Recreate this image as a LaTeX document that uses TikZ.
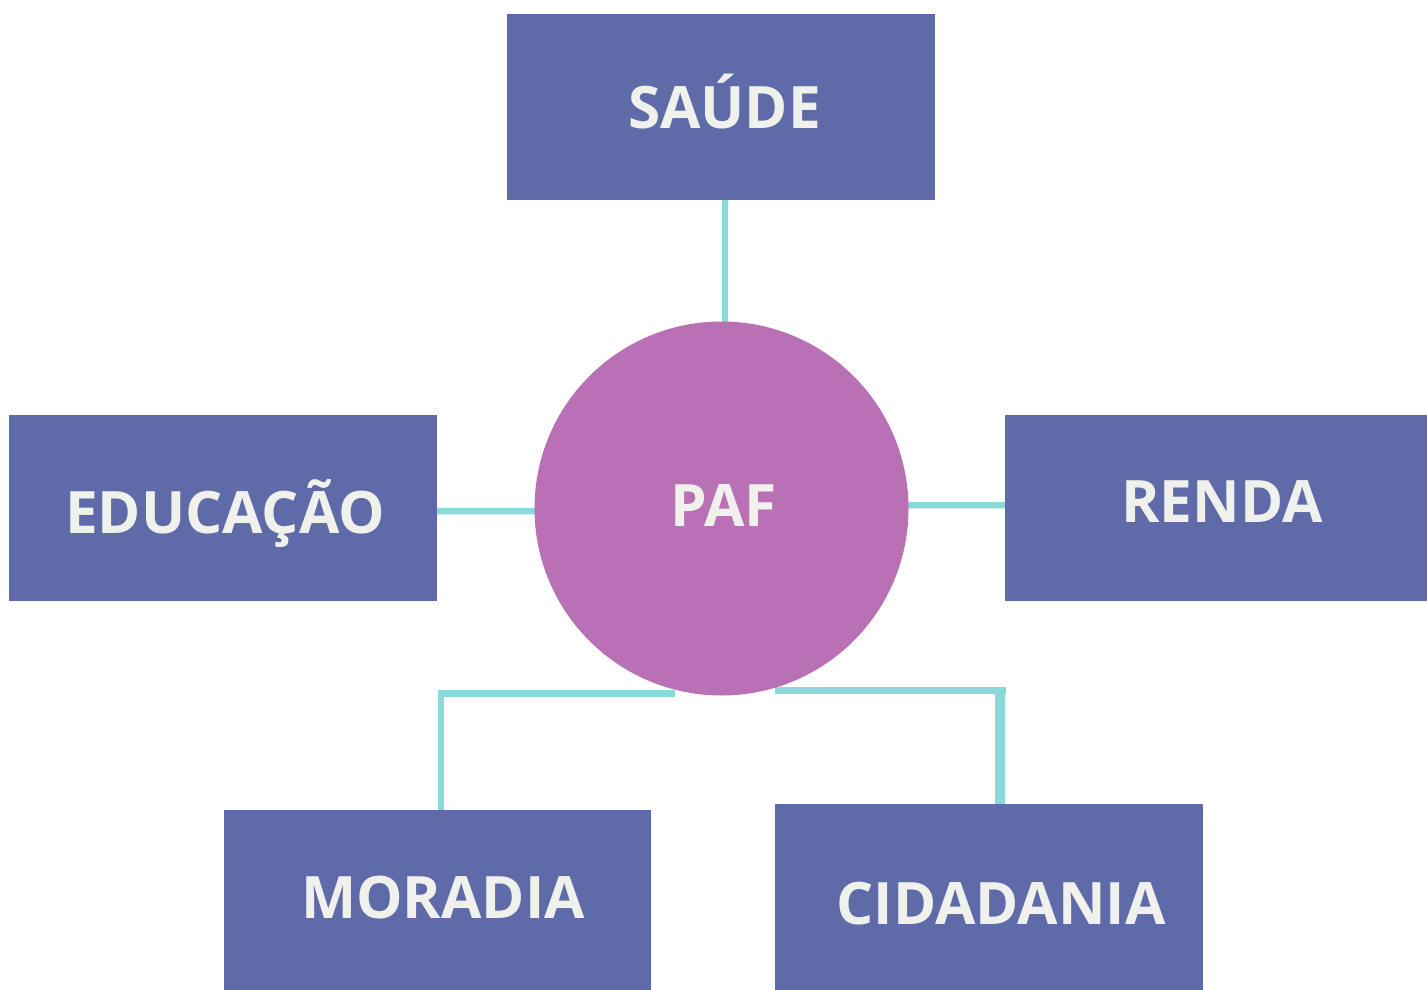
\documentclass[tikz,border=0pt]{standalone}
\usepackage{fontspec}
\setmainfont{Open Sans}
\definecolor{boxc}{HTML}{5F6BA8}
\definecolor{circc}{HTML}{BA70B5}
\definecolor{linec}{HTML}{8AD9DD}
\definecolor{textc}{HTML}{F0F0EC}
\pgfdeclarelayer{bg}
\pgfsetlayers{bg,main}
\begin{document}
\begin{tikzpicture}[x=1pt,y=-1pt,
  box/.style={fill=boxc,draw=none,rectangle,inner sep=0pt},
  lbl/.style={text=textc,font=\fontsize{58.5}{58.5}\selectfont\bfseries,anchor=base,inner sep=0pt},
  conn/.style={draw=linec,line width=6.5pt}]
\useasboundingbox (0,0) rectangle (1427,990);
% boxes
\node[box,minimum width=428pt,minimum height=186pt] (saude) at (721,107) {};
\node[box,minimum width=428pt,minimum height=186pt] (edu) at (223,508) {};
\node[box,minimum width=422pt,minimum height=186pt] (renda) at (1216,508) {};
\node[box,minimum width=427pt,minimum height=180pt] (moradia) at (437.5,900) {};
\node[box,minimum width=428pt,minimum height=186pt] (cidadania) at (989,897) {};
\node[circle,fill=circc,draw=none,minimum size=374pt,inner sep=0pt] (paf) at (721.5,508.5) {};
% labels
\node[lbl] (saudeT) at (724.5,128) {SAÚDE};
\node[lbl] (eduT) at (225,533) {EDUCAÇÃO};
\node[lbl] (rendaT) at (1222,522) {RENDA};
\node[lbl] (pafT) at (723.4,526) {PAF};
\node[lbl] (moradiaT) at (443,918) {MORADIA};
\node[lbl] (cidadaniaT) at (1001,924.5) {CIDADANIA};
% connector free ends
\coordinate (mA) at (675,693.5);
\coordinate (mB) at (441,693.5);
\coordinate (cA) at (775,690.5);
\coordinate (cB) at (1006,690.5);
\coordinate (cC) at (1000,687);
\begin{pgfonlayer}{bg}
\draw[conn,line width=6pt] ([xshift=4pt]saude.south) -- ([xshift=4pt]saude.south |- paf.center);
\draw[conn] ([yshift=-3pt]edu.east) -- ([yshift=-3pt]paf.center);
\draw[conn] ([yshift=3pt]paf.center) -- ([yshift=3pt]renda.west);
\draw[conn,line width=6.5pt] (mA) -- (mB) -- (mB |- moradia.north);
\draw[conn,line width=7pt] (cA) -- (cB);
\draw[conn,line width=10pt] (cC) -- (cC |- cidadania.north);
\end{pgfonlayer}
\end{tikzpicture}
\end{document}
